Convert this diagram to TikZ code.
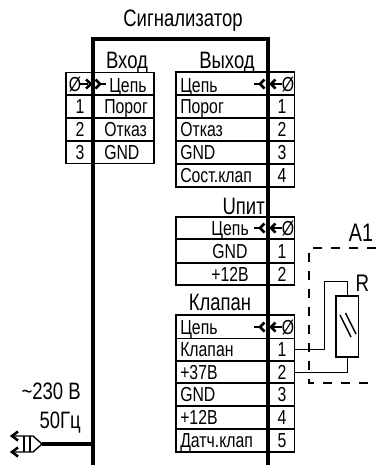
\documentclass[tikz,border=0pt]{standalone}
\usepackage{fontspec}
\setmainfont[FakeStretch=0.78]{Liberation Sans}
\begin{document}
\begin{tikzpicture}[x=0.75pt,y=-0.75pt,
    thin line/.style={line width=1.05pt},
    thick line/.style={line width=2.5pt},
    tip line/.style={line width=1.9pt},
    cell/.style={font=\fontsize{15.2}{17}\selectfont,inner sep=0pt,text height=11pt,text depth=0pt},
    head/.style={font=\fontsize{17.8}{20}\selectfont,inner sep=0pt,text height=13pt,text depth=0pt}]
    \useasboundingbox (0,0) rectangle (376,465);
    % left table
    \draw [thin line] (66,72.5) rectangle (154,163.5);
    \foreach \y in {95,118,141}
        \draw [thin line] (66,\y) -- (154,\y);
    % right table
    \draw [thin line] (176,72) rectangle (294.7,187);
    \foreach \y in {95,118,141,164}
        \draw [thin line] (176,\y) -- (294.7,\y);
    % supply table
    \draw [thin line] (176,217) rectangle (294.7,285);
    \foreach \y in {239,263}
        \draw [thin line] (176,\y) -- (294.7,\y);
    % valve table
    \draw [thin line] (176,315) rectangle (294.7,452);
    \foreach \y in {338.7,361,383,406,429}
        \draw [thin line] (176,\y) -- (294.7,\y);
    % frame
    \draw [thick line] (93,465) -- (93,39) -- (268,39) -- (268,465);
    \node [head] (title) at (183,18) {Сигнализатор};
    \node [head] (inhead) at (127,60) {Вход};
    \node [head] (outhead) at (227,60) {Выход};
    \node [head,anchor=east] (pwrhead) at (265,206) {Uпит};
    \node [head] (valvehead) at (220,302) {Клапан};
    % left texts
    \foreach \n/\t/\y in {a/Порог/106.5,b/Отказ/129,c/GND/152}
        \node [cell,anchor=west] (in\n) at (104,\y) {\t};
    \node [cell,anchor=west] (inlink) at (109,85) {Цепь};
    \foreach \n/\t/\y in {1/1/106.5,2/2/129,3/3/152}
        \node [cell] (innum\n) at (80,\y) {\t};
    \node [cell] (ind) at (75,84) {Ø};
    % right texts
    \foreach \n/\t/\y in {a/Цепь/85,b/Порог/106.5,c/Отказ/129,d/GND/152,e/Сост.клап/175}
        \node [cell,anchor=west] (out\n) at (180,\y) {\t};
    \foreach \n/\y in {1/106.5,2/129,3/152,4/175}
        \node [cell] (outnum\n) at (282,\y) {\n};
    \node [cell] (outd) at (288,84) {Ø};
    \node [cell,anchor=east] (pwra) at (249,228) {Цепь};
    \node [cell] (pwrb) at (230,251) {GND};
    \node [cell] (pwrc) at (230,274) {+12В};
    \foreach \n/\y in {1/251,2/274}
        \node [cell] (pwrnum\n) at (282,\y) {\n};
    \node [cell] (pwrd) at (288,228) {Ø};
    \foreach \n/\t/\y in {a/Цепь/327,b/Клапан/349,c/+37В/372,d/GND/394,e/+12В/417,f/Датч.клап/440}
        \node [cell,anchor=west] (valve\n) at (180,\y) {\t};
    \foreach \n/\y in {1/349,2/372,3/394,4/417,5/440}
        \node [cell] (valvenum\n) at (282,\y) {\n};
    \node [cell] (valved) at (288,327) {Ø};
    % connectors
    \draw [thin line] (80,84) -- (88,84);
    \draw [tip line] (86,79.5) -- (91,84) -- (86,88.5);
    \draw [tip line] (95.5,79.5) -- (100,84) -- (95.5,88.5);
    \draw [tip line] (99,84) -- (106,84);
    \foreach \y in {84,228,327}{
        \draw [thin line] (271,\y) -- (282,\y);
        \draw [tip line] (264.5,\y-4.5) -- (260,\y) -- (264.5,\y+4.5);
        \draw [tip line] (254,\y) -- (261,\y);
        \draw [tip line] (275.5,\y-4.5) -- (271,\y) -- (275.5,\y+4.5);}
    % load
    \draw [dash pattern=on 6.5pt off 7pt,thin line] (376,248) -- (309,248) -- (309,383) -- (376,383);
    \node [font=\fontsize{19}{21}\selectfont,inner sep=0pt] (aone) at (361,233) {A1};
    \node [draw,thin line,minimum width=17pt,minimum height=46pt,inner sep=0pt] (res) at (347.3,326.5) {};
    \node [font=\fontsize{18}{20}\selectfont,inner sep=0pt] (rlabel) at (362.5,283) {R};
    \draw [thin line] (res.north) -- (347.3,281.3) -- (324.7,281.3) -- (324.7,349.3) -- (294.7,349.3);
    \draw [thin line] (res.south) -- (347.3,372.7) -- (294.7,372.7);
    \draw [thin line] (340,315) -- (351,337);
    \draw [thin line] (345.5,313) -- (356,334);
    % mains
    \node [head,anchor=east] (volts) at (81,391) {\textasciitilde230 В};
    \node [head,anchor=east] (hertz) at (81,420) {50Гц};
    \draw [thick line] (93,444) -- (42,444);
    \draw [thin line] (12,436) -- (33,436) -- (42,444) -- (33,452) -- (12,452);
    \draw [thin line] (24,436) -- (24,452);
    \draw [thin line] (30,436) -- (30,452);
    \draw [tip line] (18,431.5) -- (12,436) -- (18,440.5);
    \draw [tip line] (18,447.5) -- (12,452) -- (18,456.5);
\end{tikzpicture}
\end{document}
